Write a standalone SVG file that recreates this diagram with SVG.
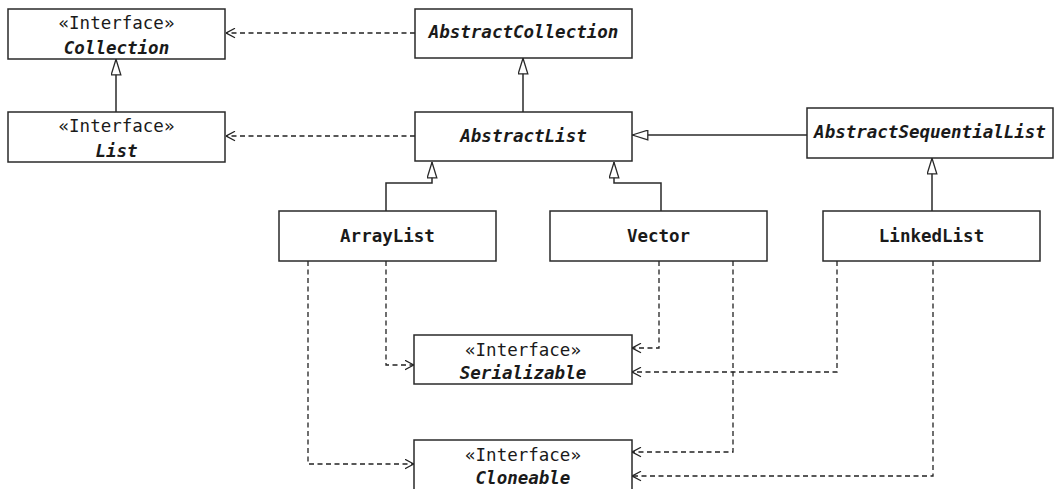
<svg xmlns="http://www.w3.org/2000/svg" width="1058" height="489" viewBox="0 0 1058 489">
<style>
.box{fill:#fff;stroke:#2a2a2a;stroke-width:1.5}
.t{font-family:"DejaVu Sans Mono","Liberation Mono",monospace;font-size:17.5px;fill:#1a1a1a;text-anchor:middle}
.st{font-weight:normal}
.ab{font-weight:bold;font-style:italic}
.cl{font-weight:bold}
.gen{fill:none;stroke:#2a2a2a;stroke-width:1.5;marker-end:url(#tri)}
.dep{fill:none;stroke:#222;stroke-width:1.3;stroke-dasharray:5 3.5;marker-end:url(#open)}
</style>
<defs>
<marker id="tri" viewBox="0 0 17 11" refX="16.5" refY="5.5" markerWidth="17" markerHeight="11" markerUnits="userSpaceOnUse" orient="auto">
<path d="M0.7,0.7 L16.3,5.5 L0.7,10.3 Z" fill="#fff" stroke="#2a2a2a" stroke-width="1.3"/>
</marker>
<marker id="open" viewBox="0 0 10 11" refX="9.5" refY="5.5" markerWidth="10" markerHeight="11" markerUnits="userSpaceOnUse" orient="auto">
<path d="M0.5,0.8 L9.3,5.5 L0.5,10.2" fill="none" stroke="#222" stroke-width="1.3" stroke-dasharray="none"/>
</marker>
</defs>
<g id="connectors">
<path class="dep" d="M415,33 L226,33"/>
<path class="dep" d="M415,136 L226,136"/>
<path class="gen" d="M116,112 L116,59"/>
<path class="gen" d="M523,112 L523,58"/>
<path class="gen" d="M807,135 L632,135"/>
<path class="gen" d="M386,211 V183 H432 V162"/>
<path class="gen" d="M661,211 V183 H614 V162"/>
<path class="gen" d="M932,211 V158"/>
<path class="dep" d="M386,261 V365 H414"/>
<path class="dep" d="M308,261 V464 H414"/>
<path class="dep" d="M659,261 V348 H632"/>
<path class="dep" d="M733,261 V452 H632"/>
<path class="dep" d="M837,261 V372 H632"/>
<path class="dep" d="M933,261 V476 H632"/>
</g>
<g id="Collection">
<rect class="box" x="8" y="9" width="217" height="50"/>
<text class="t st" x="116.5" y="29">«Interface»</text>
<text class="t ab" x="116.5" y="54">Collection</text>
</g>
<g id="List">
<rect class="box" x="8" y="112" width="217" height="50"/>
<text class="t st" x="116.5" y="132">«Interface»</text>
<text class="t ab" x="116.5" y="157">List</text>
</g>
<g id="AbstractCollection">
<rect class="box" x="415" y="9" width="217" height="49"/>
<text class="t ab" x="523.5" y="38">AbstractCollection</text>
</g>
<g id="AbstractList">
<rect class="box" x="415" y="112" width="217" height="49"/>
<text class="t ab" x="523.5" y="142">AbstractList</text>
</g>
<g id="AbstractSequentialList">
<rect class="box" x="807" y="108" width="246" height="50"/>
<text class="t ab" x="930" y="138">AbstractSequentialList</text>
</g>
<g id="ArrayList">
<rect class="box" x="279" y="211" width="217" height="50"/>
<text class="t cl" x="387.5" y="242">ArrayList</text>
</g>
<g id="Vector">
<rect class="box" x="550" y="211" width="217" height="50"/>
<text class="t cl" x="658.5" y="242">Vector</text>
</g>
<g id="LinkedList">
<rect class="box" x="823" y="211" width="217" height="50"/>
<text class="t cl" x="931.5" y="242">LinkedList</text>
</g>
<g id="Serializable">
<rect class="box" x="414" y="335" width="218" height="49"/>
<text class="t st" x="523" y="356">«Interface»</text>
<text class="t ab" x="523" y="379">Serializable</text>
</g>
<g id="Cloneable">
<rect class="box" x="414" y="440" width="218" height="50"/>
<text class="t st" x="523" y="461">«Interface»</text>
<text class="t ab" x="523" y="484">Cloneable</text>
</g>
</svg>
